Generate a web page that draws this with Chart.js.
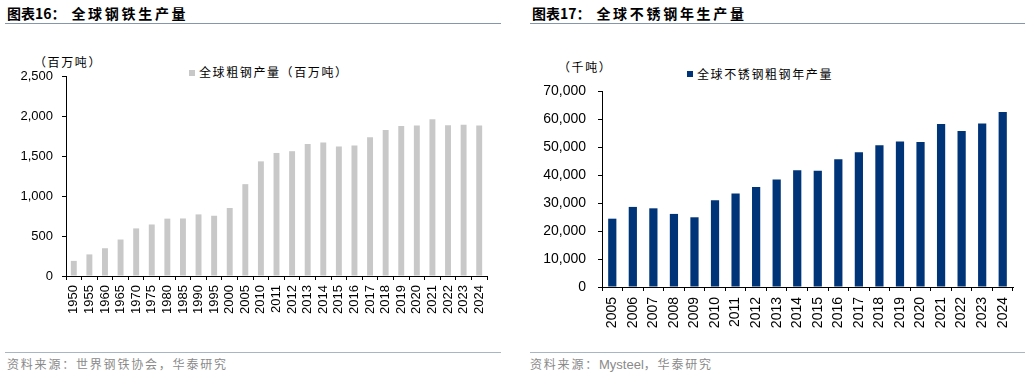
<!DOCTYPE html>
<html>
<head>
<meta charset="utf-8">
<script src="https://cdn.jsdelivr.net/npm/chart.js@4/dist/chart.umd.min.js"></script>
<style>
  html, body { margin:0; padding:0; background:#fff; }
  body { width:1030px; height:378px; position:relative; overflow:hidden; }
  .t { position:absolute; white-space:nowrap; line-height:20px; height:20px; }
  .title { font-family:"Noto Sans CJK SC","Liberation Sans",sans-serif; font-weight:bold; font-size:14px; color:#000; }
  .title .b { letter-spacing:2.7px; }
  .small { font-family:"Noto Sans CJK SC","Liberation Sans",sans-serif; font-size:12px; letter-spacing:1.6px; color:#000; }
  .src { font-family:"Noto Sans CJK SC","Liberation Sans",sans-serif; font-size:12px; letter-spacing:1.8px; color:#8a8a8a; }
  .src .en { font-family:"Liberation Sans",sans-serif; font-size:13px; letter-spacing:0; }
  .line { position:absolute; height:1px; background:#8797ab; }
  .fline { position:absolute; height:1px; background:#a7b5c5; }
  .sq { position:absolute; width:6px; height:6px; }
  canvas { position:absolute; }
</style>
</head>
<body>
<div class="t title" style="left:7px; top:3px;">图表16：<span class="b"> 全球钢铁生产量</span></div>
<div class="line" style="left:5px; top:23px; width:496px;"></div>
<div class="t title" style="left:532px; top:3px;">图表17：<span class="b"> 全球不锈钢年生产量</span></div>
<div class="line" style="left:530px; top:23px; width:495px;"></div>

<div class="t small" id="unitL" style="left:34px; top:52px;"></div>
<div class="sq" style="left:189px; top:70px; background:#C8C8C8;"></div>
<div class="t small" id="legL" style="left:199px; top:62px;"></div>

<div class="t small" id="unitR" style="left:558px; top:57px;"></div>
<div class="sq" style="left:687px; top:71px; background:#003478;"></div>
<div class="t small" id="legR" style="left:697px; top:64px;"></div>

<canvas id="c1" width="515" height="345" style="left:0; top:0; width:515px; height:345px;"></canvas>
<canvas id="c2" width="515" height="345" style="left:515px; top:0; width:515px; height:345px;"></canvas>

<div class="fline" style="left:5px; top:352px; width:496px;"></div>
<div class="t src" style="left:7px; top:354px;">资料来源：世界钢铁协会，华泰研究</div>
<div class="fline" style="left:530px; top:352px; width:495px;"></div>
<div class="t src" style="left:530px; top:354px;">资料来源：<span class="en">Mysteel</span>，华泰研究</div>

<script>
// ---- Data: chart 16 (world crude steel production, million tonnes)
const steelYears = ["1950","1955","1960","1965","1970","1975","1980","1985","1990","1995","2000","2005","2010","2011","2012","2013","2014","2015","2016","2017","2018","2019","2020","2021","2022","2023","2024"];
const steelValues = [189,270,347,456,595,644,717,719,770,753,850,1148,1433,1538,1560,1650,1670,1620,1630,1735,1826,1875,1880,1960,1885,1890,1882];
const steelLabel = "全球粗钢产量（百万吨）";
const steelUnit = "（百万吨）";
const steelTicks = [0,500,1000,1500,2000,2500];

// ---- Data: chart 17 (world stainless steel production, thousand tonnes)
const ssYears = ["2005","2006","2007","2008","2009","2010","2011","2012","2013","2014","2015","2016","2017","2018","2019","2020","2021","2022","2023","2024"];
const ssValues = [24400,28600,28100,26100,24900,31000,33400,35700,38400,41700,41500,45600,48100,50600,52000,51800,58200,55700,58400,62500];
const ssLabel = "全球不锈钢粗钢年产量";
const ssUnit = "（千吨）";
const ssTicks = [0,10000,20000,30000,40000,50000,60000,70000];

document.getElementById('unitL').textContent = steelUnit;
document.getElementById('legL').textContent = steelLabel;
document.getElementById('unitR').textContent = ssUnit;
document.getElementById('legR').textContent = ssLabel;

const fmt = v => Number(v).toLocaleString('en-US');
const numFont = "'Liberation Sans', Arial, sans-serif";

function makeChart(id, labels, values, label, color, ticksArr, opt) {
  return new Chart(document.getElementById(id), {
    type: 'bar',
    data: { labels: labels, datasets: [{ label: label, data: values, backgroundColor: color, borderWidth: 0, categoryPercentage: 1, barPercentage: opt.barPct }] },
    options: {
      responsive: false, animation: false, devicePixelRatio: 1,
      layout: { padding: opt.padding },
      plugins: { legend: { display: false }, tooltip: { enabled: false } },
      scales: {
        x: {
          offset: true,
          grid: { display: true, drawOnChartArea: false, drawTicks: true, tickLength: 4, color: '#000', offset: true },
          border: { display: true, color: '#000', width: 1 },
          ticks: { autoSkip: false, maxRotation: 90, minRotation: 90, padding: opt.xPad, color: '#000', font: { family: numFont, size: opt.xFont } },
          afterFit: s => { s.height = opt.xHeight; }
        },
        y: {
          min: 0, max: ticksArr[ticksArr.length - 1],
          afterBuildTicks: s => { s.ticks = ticksArr.map(v => ({ value: v })); },
          grid: { display: true, drawOnChartArea: false, drawTicks: true, tickLength: 4, color: '#000' },
          border: { display: true, color: '#000', width: 1 },
          ticks: { padding: opt.yPad, color: '#000', font: { family: numFont, size: opt.yFont }, callback: v => fmt(v) },
          afterFit: s => { s.width = opt.yWidth; }
        }
      }
    }
  });
}

makeChart('c1', steelYears, steelValues, steelLabel, '#C8C8C8', steelTicks,
  { barPct: 0.38, padding: { top: 76, left: 0, right: 28, bottom: 9 }, xHeight: 60, yWidth: 66, xPad: 5, yPad: 9, xFont: 13, yFont: 13 });
makeChart('c2', ssYears, ssValues, ssLabel, '#003478', ssTicks,
  { barPct: 0.40, padding: { top: 91, left: 0, right: 17, bottom: 8 }, xHeight: 50, yWidth: 87, xPad: 6, yPad: 12, xFont: 14, yFont: 14 });
</script>
</body>
</html>
